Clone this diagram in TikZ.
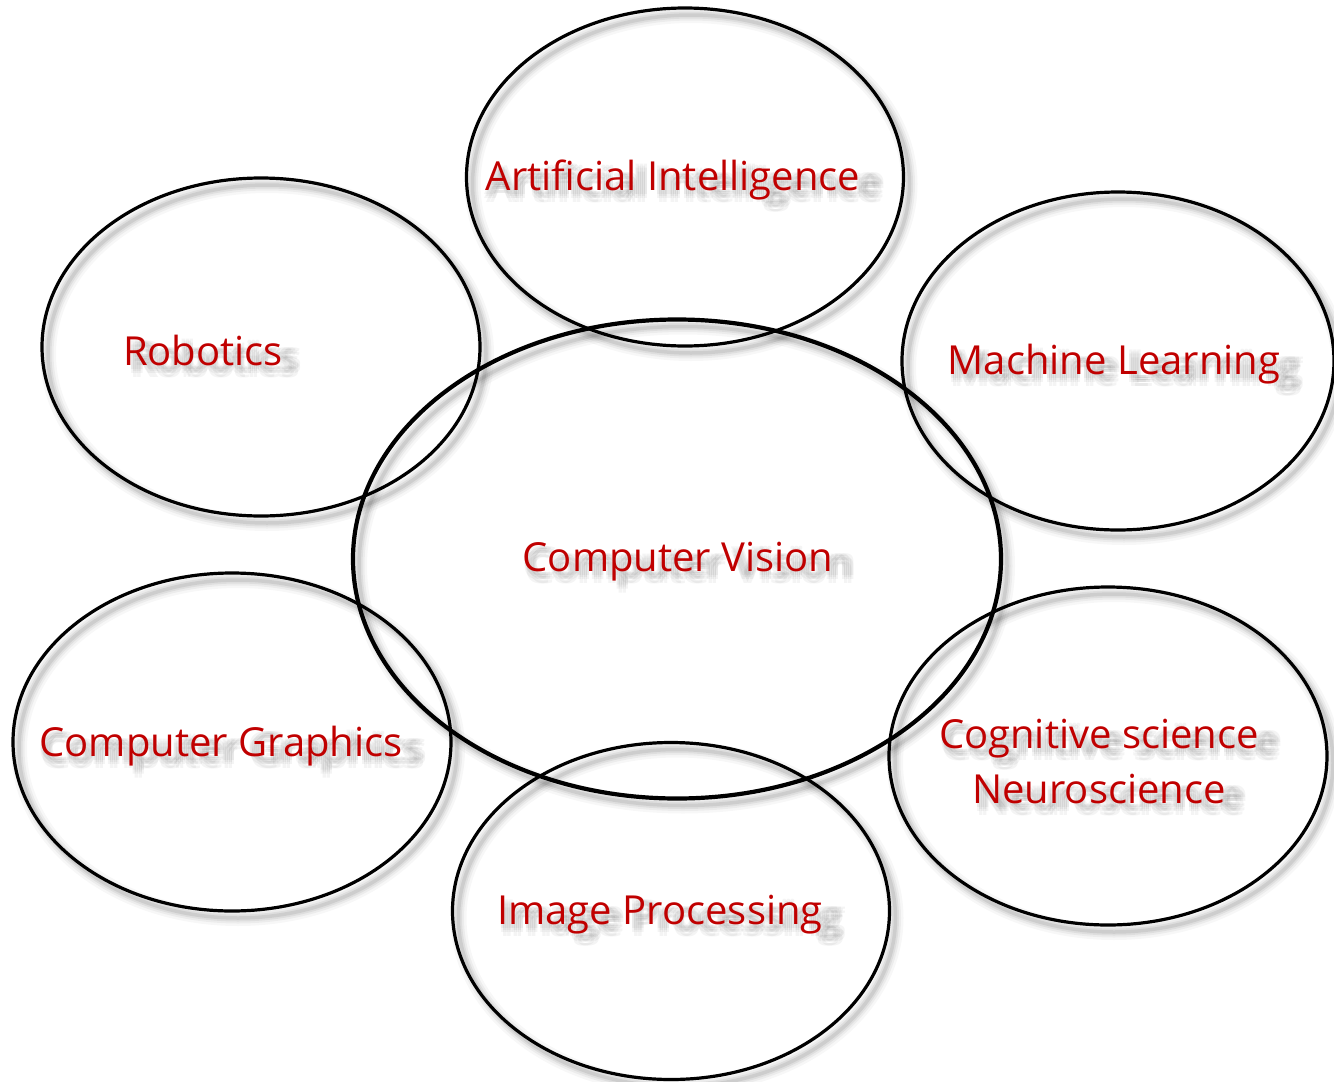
\documentclass[tikz,border=0pt]{standalone}
\usepackage{fontspec}
\setmainfont{Open Sans}
\usetikzlibrary{calc,shapes.geometric}
\definecolor{labelred}{RGB}{192,0,0}
\tikzset{
  field/.style={ellipse, draw=black, inner sep=0pt},
  fieldshade/.style={ellipse, draw=black, inner sep=0pt},
  fieldtext/.style={text=labelred, font=\fontsize{40}{55}\selectfont, align=center, inner sep=0pt},
  fieldtextshade/.style={text=black, font=\fontsize{40}{55}\selectfont, align=center, inner sep=0pt, xscale=1.05, transform shape},
}
% an ellipse with a soft outline shadow to the lower right
\newcommand\areaellipse[5]{% name, centre, width, height, line width
  \foreach \w/\o [count=\k] in {16/0.03,11/0.045,7/0.06,3.5/0.08}{
    \node[fieldshade, line width=\w pt, draw opacity=\o, minimum width=#3pt, minimum height=#4pt]
      (#1-shade-\k) at ($(#2)+(6,7)$) {};
  }
  \node[field, line width=#5pt, minimum width=#3pt, minimum height=#4pt] (#1) at (#2) {};
}
% a label with a blurred grey copy behind it
\newcommand\arealabel[3]{% name, centre, text
  \foreach \dx/\dy [count=\k] in {8/4,12/4,16/4,8/8,12/8,16/8,10/12,14/12,10/6,14/6}{
    \node[fieldtextshade, opacity=0.045] (#1-shade-\k) at ($(#2)+(\dx,\dy)$) {#3};
  }
  \node[fieldtext] (#1) at (#2) {#3};
}
\begin{document}
\begin{tikzpicture}[x=1pt, y=-1pt]
\useasboundingbox (0,0) rectangle (1334,1082);

\areaellipse{ai}{685,177}{437}{338}{3.2}
\areaellipse{rob}{261,347}{438}{338}{3.2}
\areaellipse{ml}{1118,361}{432}{338}{3.2}
\areaellipse{cg}{232,742}{438}{338}{3.2}
\areaellipse{cog}{1108,756}{438}{338}{3.2}
\areaellipse{ip}{671,911}{437}{337}{3.2}
\areaellipse{cv}{677,559}{648}{479}{4.2}

\arealabel{ai-text}{673,180}{Artificial Intelligence}
\arealabel{rob-text}{203,350}{Robotics}
\arealabel{ml-text}{1114,364}{Machine Learning}
\arealabel{cv-text}{678,562}{Computer Vision}
\arealabel{cg-text}{221,746}{Computer Graphics}
\arealabel{cog-text}{1099,762}{Cognitive science\\Neuroscience}
\arealabel{ip-text}{660,915}{Image Processing}
\end{tikzpicture}
\end{document}
